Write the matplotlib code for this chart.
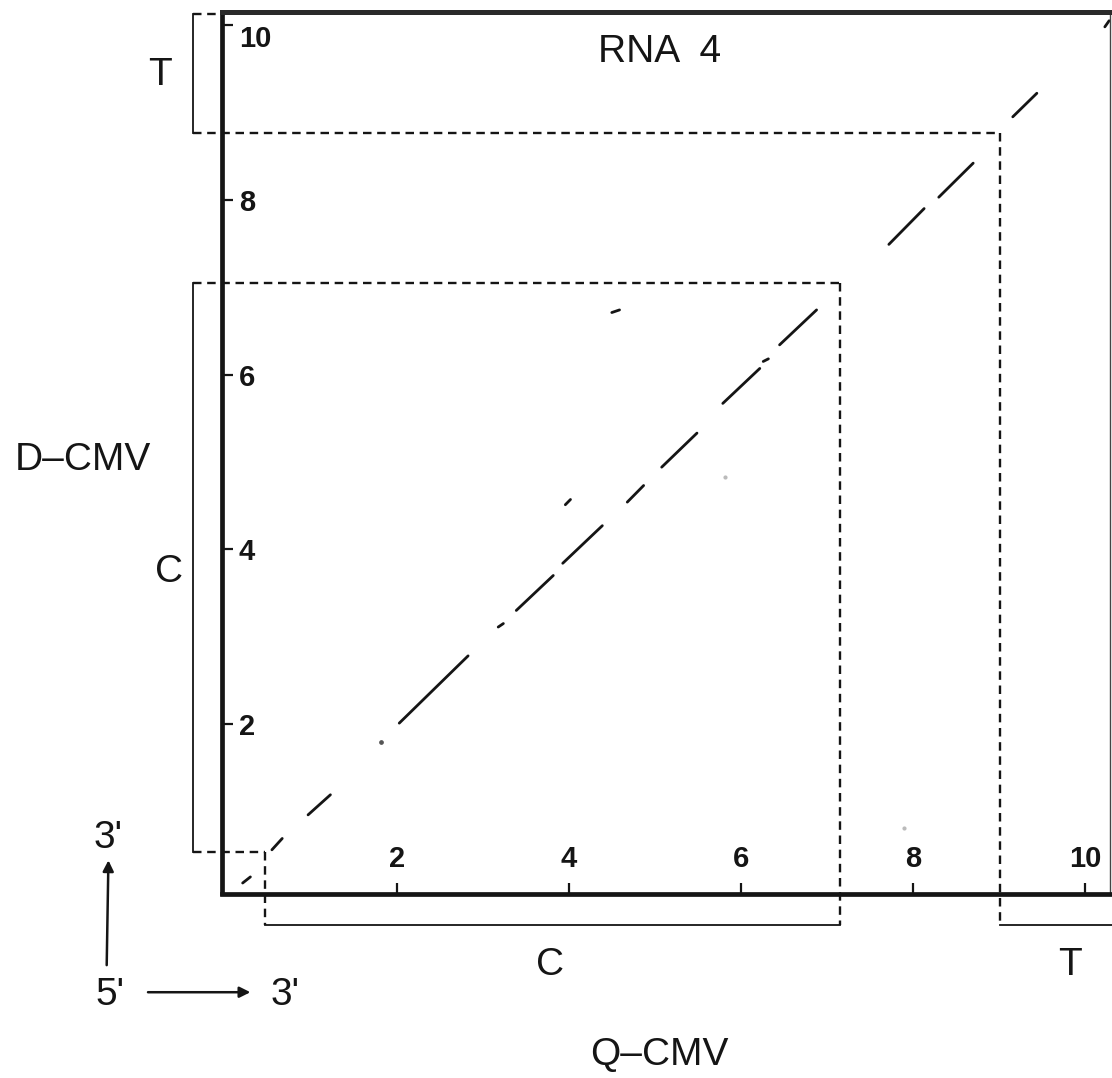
import matplotlib
matplotlib.use('Agg')
import matplotlib.pyplot as plt

plt.rcParams['font.family'] = ['Liberation Sans', 'DejaVu Sans']

# homology segments of the dot plot, Q-CMV on x, D-CMV on y
seg_x0 = [0.21, 0.55, 0.97, 2.03, 3.18, 3.39, 3.93, 3.96, 4.68, 5.08, 5.79, 6.26, 6.45, 4.50, 7.72, 8.30, 9.16, 10.23]
seg_y0 = [0.18, 0.56, 0.96, 2.01, 3.11, 3.30, 3.84, 4.51, 4.54, 4.94, 5.67, 6.15, 6.34, 6.71, 7.49, 8.03, 8.95, 9.98]
seg_x1 = [0.30, 0.67, 1.23, 2.83, 3.24, 3.82, 4.39, 4.02, 4.87, 5.49, 6.22, 6.32, 6.88, 4.59, 8.13, 8.70, 9.44, 10.28]
seg_y1 = [0.25, 0.69, 1.19, 2.78, 3.15, 3.70, 4.27, 4.57, 4.73, 5.33, 6.07, 6.18, 6.74, 6.74, 7.90, 8.42, 9.22, 10.05]

# isolated single dots
dot_x = [1.82, 7.90, 5.81]
dot_y = [1.79, 0.81, 4.83]

# gene regions (C = coat protein, T = 3' terminal region)
c_q = [0.47, 7.15]
c_d = [0.535, 7.05]
t_q = [9.01, 10.29]
t_d = [8.76, 10.15]

ticks = [2, 4, 6, 8, 10]
tick_labels = ['2', '4', '6', '8', '10']

fig = plt.figure(figsize=(11.12, 10.78), dpi=100)
ax = fig.add_axes([222 / 1112, (1078 - 893.5) / 1078, 888 / 1112, 881.5 / 1078])
ax.set_xlim(-0.03, 10.29)
ax.set_ylim(0.06, 10.15)

ink = '#151515'
for s in ['left', 'bottom']:
    ax.spines[s].set_linewidth(3.4)
    ax.spines[s].set_color(ink)
ax.spines['top'].set_linewidth(3.6)
ax.spines['top'].set_color('#2a2a2a')
ax.spines['right'].set_linewidth(1.0)
ax.spines['right'].set_color('#444444')

ax.set_xticks(ticks, labels=tick_labels, va='bottom', fontsize=21, fontweight='bold')
ax.set_yticks(ticks, labels=tick_labels, ha='left', fontsize=21, fontweight='bold')
ax.tick_params(axis='x', direction='in', length=8, width=1.6, pad=-15, colors=ink)
ax.tick_params(axis='y', direction='in', length=8, width=1.6, pad=-12, colors=ink)
ax.get_yticklabels()[-1].set_va('top')

for i in range(len(seg_x0)):
    ax.plot([seg_x0[i], seg_x1[i]], [seg_y0[i], seg_y1[i]], color=ink, lw=2.0,
            solid_capstyle='round')
ax.plot(dot_x[:1], dot_y[:1], 'o', ms=2.4, color='#555555')
ax.plot(dot_x[1:], dot_y[1:], 'o', ms=2.0, color='#bbbbbb')

# dashed guides and brackets
bx = -0.37
by = -0.30
dash = dict(color=ink, lw=1.7, ls=(0, (3.6, 2.4)), clip_on=False)
solid = dict(color=ink, lw=1.3, clip_on=False)

ax.plot([bx, c_q[0]], [c_d[0], c_d[0]], **dash)
ax.plot([c_q[0], c_q[0]], [c_d[0], by], **dash)
ax.plot([bx, c_q[1]], [c_d[1], c_d[1]], **dash)
ax.plot([c_q[1], c_q[1]], [c_d[1], by], **dash)
ax.plot([bx, t_q[0]], [t_d[0], t_d[0]], **dash)
ax.plot([t_q[0], t_q[0]], [t_d[0], by], **dash)
ax.plot([bx, 0], [t_d[1] - 0.02, t_d[1] - 0.02], **dash)

ax.plot([bx, bx], [c_d[0], c_d[1]], **solid)
ax.plot([bx, bx], [t_d[0], t_d[1] - 0.02], **solid)
ax.plot([c_q[0], c_q[1]], [by, by], **solid)
ax.plot([t_q[0], t_q[1] + 0.05], [by, by], **solid)

fs = 28
ax.text(5.06, 9.69, 'RNA  4', fontsize=fs, ha='center', va='center', color=ink)
ax.text(-0.75, 9.43, 'T', fontsize=fs, ha='center', va='center', color=ink, clip_on=False)
ax.text(-0.65, 3.74, 'C', fontsize=fs, ha='center', va='center', color=ink, clip_on=False)
ax.text(-1.65, 5.02, 'D\u2013CMV', fontsize=fs, ha='center', va='center', color=ink, clip_on=False)
ax.text(3.78, -0.76, 'C', fontsize=fs, ha='center', va='center', color=ink, clip_on=False)
ax.text(9.82, -0.76, 'T', fontsize=fs, ha='center', va='center', color=ink, clip_on=False)
ax.text(5.05, -1.79, 'Q\u2013CMV', fontsize=fs, ha='center', va='center', color=ink, clip_on=False)
ax.text(-1.35, 0.70, "3'", fontsize=fs, ha='center', va='center', color=ink, clip_on=False)
ax.text(-1.33, -1.10, "5'", fontsize=fs, ha='center', va='center', color=ink, clip_on=False)
ax.text(0.70, -1.10, "3'", fontsize=fs, ha='center', va='center', color=ink, clip_on=False)

arrow = dict(arrowstyle='-|>', color=ink, lw=1.8, mutation_scale=16, shrinkA=0, shrinkB=0)
ax.annotate('', xy=(-1.35, 0.44), xytext=(-1.37, -0.76), arrowprops=arrow, annotation_clip=False)
ax.annotate('', xy=(0.30, -1.07), xytext=(-0.89, -1.07), arrowprops=arrow, annotation_clip=False)

fig.savefig('out.png', dpi=100)
